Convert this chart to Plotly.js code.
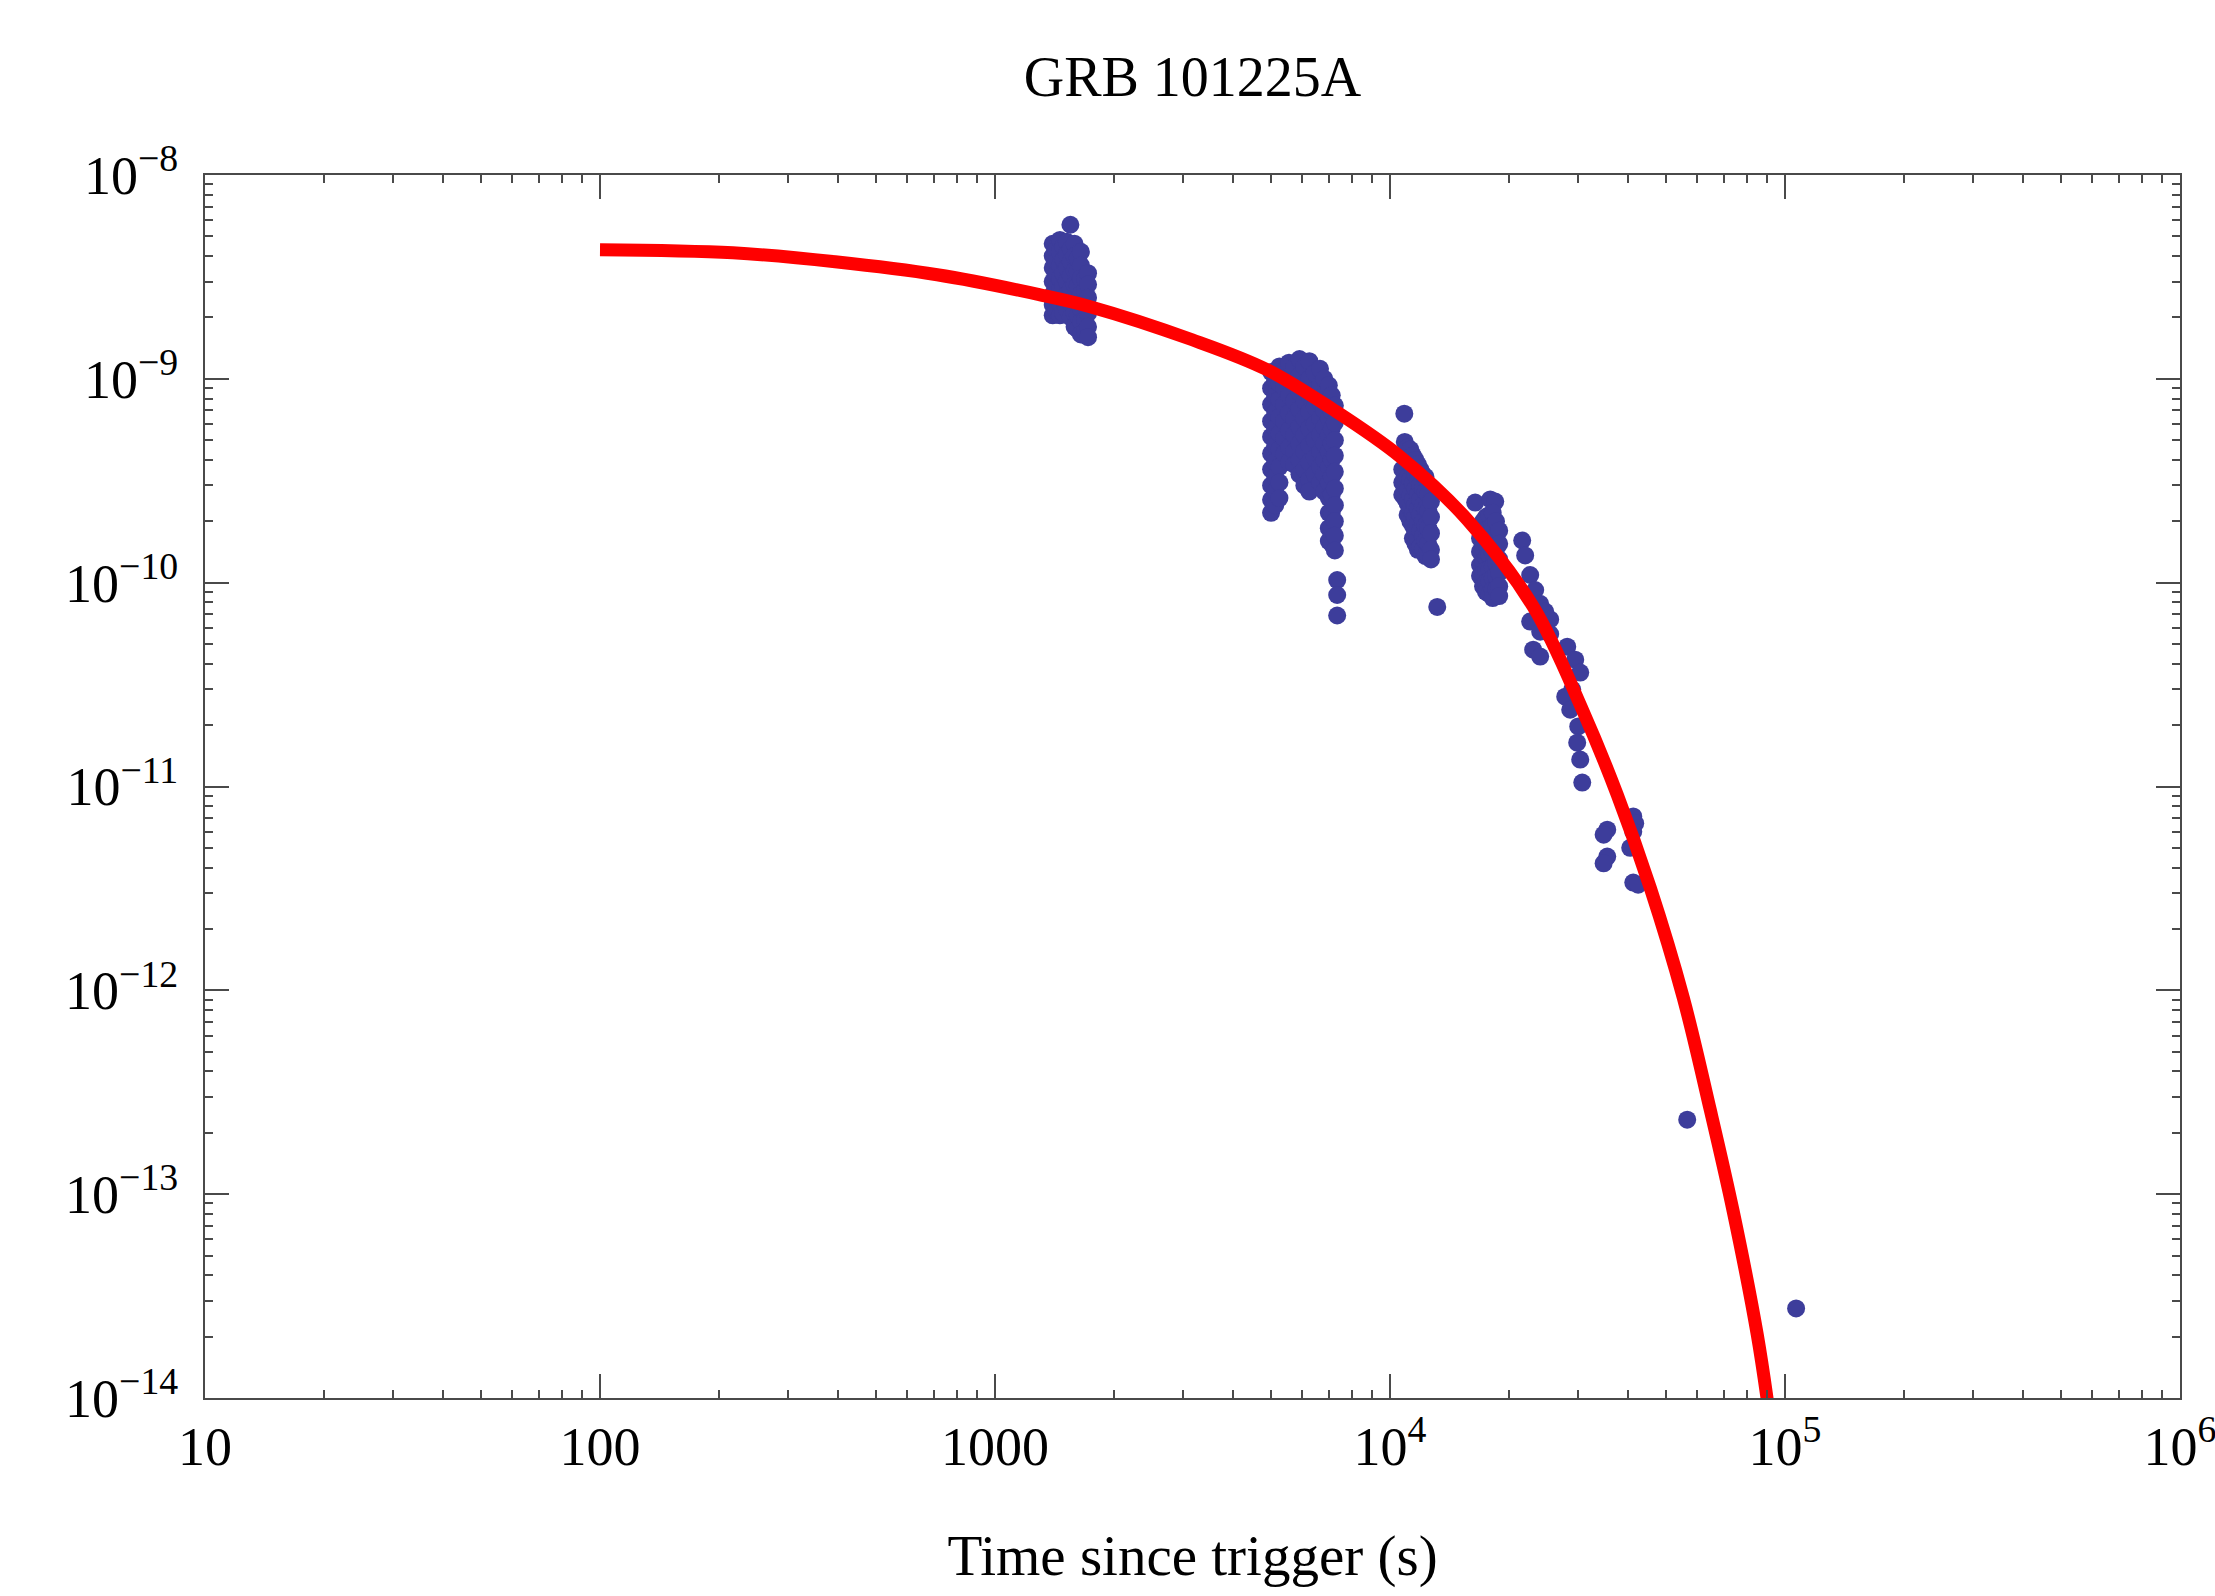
<!DOCTYPE html>
<html>
<head>
<meta charset="utf-8">
<script src="https://cdn.plot.ly/plotly-3.0.1.min.js"></script>
<style>
  html, body { margin: 0; padding: 0; background: #ffffff; }
  #chart { width: 2215px; height: 1596px; }
</style>
</head>
<body>
<div id="chart"></div>
<script>
// ---------------- DATA ----------------
const chartTitle = 'GRB 101225A';
const xAxisTitle = 'Time since trigger (s)';

const xTickVals = [10, 100, 1000, 1e4, 1e5, 1e6];
const xTickText = ['10', '100', '1000', '10<sup>4</sup>', '10<sup>5</sup>', '10<sup>6</sup>'];
const yTickVals = [1e-14, 1e-13, 1e-12, 1e-11, 1e-10, 1e-9, 1e-8];
const yTickText = ['10<sup>\u221214</sup>', '10<sup>\u221213</sup>', '10<sup>\u221212</sup>',
                   '10<sup>\u221211</sup>', '10<sup>\u221210</sup>', '10<sup>\u22129</sup>', '10<sup>\u22128</sup>'];

// fitted model curve (red)
const curveTime = [100, 217, 394, 714, 1294, 1742, 3157, 4889, 7181, 10612, 15683, 23043,
                   30840, 37600, 45580, 55250, 64660, 73940, 85050, 91500];
const curveFlux = [4.30e-9, 4.15e-9, 3.75e-9, 3.24e-9, 2.59e-9, 2.26e-9, 1.555e-9, 1.108e-9,
                   7.06e-10, 4.15e-10, 2.04e-10, 7.62e-11, 2.33e-11, 9.13e-12, 3.19e-12,
                   9.22e-13, 2.60e-13, 8.23e-14, 2.05e-14, 8.0e-15];

// observed points, grouped by time column: [time, [flux values]]
const cluster1 = [
  [1400, [4.6e-9, 4.0e-9, 3.5e-9, 3.0e-9, 2.6e-9, 2.3e-9, 2.05e-9]],
  [1430, [4.3e-9, 3.75e-9, 3.25e-9, 2.8e-9, 2.45e-9, 2.15e-9]],
  [1460, [4.8e-9, 4.2e-9, 3.6e-9, 3.1e-9, 2.7e-9, 2.35e-9, 2.05e-9]],
  [1490, [4.45e-9, 3.85e-9, 3.3e-9, 2.85e-9, 2.45e-9, 2.1e-9]],
  [1520, [4.7e-9, 4.1e-9, 3.5e-9, 3.0e-9, 2.6e-9, 2.2e-9]],
  [1555, [4.35e-9, 3.75e-9, 3.2e-9, 2.75e-9, 2.35e-9, 2.0e-9]],
  [1590, [4.6e-9, 4.0e-9, 3.4e-9, 2.9e-9, 2.5e-9, 2.1e-9, 1.8e-9]],
  [1620, [3.9e-9, 3.35e-9, 2.85e-9, 2.4e-9, 2.05e-9, 1.75e-9]],
  [1650, [4.2e-9, 3.6e-9, 3.1e-9, 2.6e-9, 2.2e-9, 1.9e-9, 1.65e-9]],
  [1690, [3.1e-9, 2.7e-9, 2.3e-9, 1.95e-9, 1.7e-9]],
  [1720, [3.3e-9, 2.9e-9, 2.5e-9, 2.1e-9, 1.8e-9, 1.6e-9]],
  [1552, [5.7e-9]]
];
const cluster2 = [
  [5000, [1.08e-9, 9.0e-10, 7.5e-10, 6.2e-10, 5.2e-10, 4.3e-10, 3.6e-10, 3.0e-10, 2.55e-10, 2.2e-10]],
  [5120, [9.8e-10, 8.2e-10, 6.8e-10, 5.7e-10, 4.7e-10, 3.9e-10, 3.3e-10, 2.8e-10, 2.4e-10]],
  [5250, [1.15e-9, 9.5e-10, 7.9e-10, 6.5e-10, 5.4e-10, 4.5e-10, 3.7e-10, 3.1e-10, 2.6e-10]],
  [5400, [1.1e-9, 9.1e-10, 7.5e-10, 6.2e-10, 5.1e-10, 4.3e-10]],
  [5550, [1.2e-9, 1.0e-9, 8.3e-10, 6.8e-10, 5.6e-10, 4.6e-10, 3.9e-10]],
  [5720, [1.14e-9, 9.4e-10, 7.8e-10, 6.4e-10, 5.3e-10, 4.4e-10, 3.8e-10]],
  [5900, [1.25e-9, 1.04e-9, 8.6e-10, 7.1e-10, 5.8e-10, 4.8e-10, 4.0e-10, 3.4e-10]],
  [6070, [1.15e-9, 9.5e-10, 7.8e-10, 6.4e-10, 5.3e-10, 4.4e-10, 3.6e-10, 3.0e-10]],
  [6250, [1.22e-9, 1.0e-9, 8.3e-10, 6.9e-10, 5.7e-10, 4.7e-10, 3.9e-10, 3.2e-10, 2.8e-10]],
  [6450, [1.07e-9, 8.8e-10, 7.3e-10, 6.0e-10, 5.0e-10, 4.1e-10, 3.4e-10]],
  [6650, [1.12e-9, 9.3e-10, 7.7e-10, 6.4e-10, 5.3e-10, 4.4e-10, 3.7e-10, 3.1e-10]],
  [6820, [1.0e-9, 8.4e-10, 7.0e-10, 5.8e-10, 4.8e-10, 4.0e-10, 3.4e-10, 2.8e-10]],
  [7000, [9.3e-10, 7.7e-10, 6.4e-10, 5.3e-10, 4.4e-10, 3.7e-10, 3.1e-10, 2.6e-10, 2.2e-10, 1.85e-10, 1.6e-10]],
  [7120, [8.3e-10, 6.9e-10, 5.7e-10, 4.8e-10, 4.0e-10, 3.3e-10, 2.7e-10, 2.2e-10, 1.85e-10, 1.55e-10]],
  [7250, [7.4e-10, 6.1e-10, 5.0e-10, 4.2e-10, 3.5e-10, 2.9e-10, 2.4e-10, 2.0e-10, 1.7e-10, 1.44e-10]],
  [7350, [1.03e-10, 8.7e-11, 6.9e-11]]
];
const cluster3 = [
  [10870, [6.75e-10]],
  [10900, [4.9e-10, 4.2e-10, 3.5e-10, 3.0e-10, 2.6e-10]],
  [10740, [3.6e-10, 3.1e-10, 2.7e-10]],
  [11080, [4.6e-10, 3.9e-10, 3.3e-10, 2.85e-10, 2.45e-10, 2.15e-10]],
  [11260, [4.5e-10, 3.8e-10, 3.2e-10, 2.7e-10, 2.3e-10, 2.0e-10]],
  [11430, [4.2e-10, 3.6e-10, 3.05e-10, 2.55e-10, 2.2e-10, 1.9e-10, 1.65e-10]],
  [11600, [4.0e-10, 3.4e-10, 2.9e-10, 2.4e-10, 2.1e-10, 1.8e-10, 1.55e-10]],
  [11770, [3.8e-10, 3.2e-10, 2.7e-10, 2.3e-10, 1.95e-10, 1.65e-10, 1.45e-10]],
  [11930, [3.6e-10, 3.0e-10, 2.55e-10, 2.15e-10, 1.8e-10, 1.5e-10]],
  [12120, [3.4e-10, 2.9e-10, 2.4e-10, 2.0e-10, 1.7e-10, 1.45e-10]],
  [12300, [3.3e-10, 2.8e-10, 2.3e-10, 1.9e-10, 1.6e-10, 1.35e-10]],
  [12500, [2.7e-10, 2.25e-10, 1.85e-10, 1.55e-10, 1.35e-10]],
  [12700, [2.5e-10, 2.1e-10, 1.75e-10, 1.45e-10, 1.3e-10]],
  [13170, [7.6e-11]]
];
const cluster4 = [
  [16430, [2.47e-10]],
  [17940, [2.56e-10]],
  [18470, [2.5e-10]],
  [16900, [1.9e-10, 1.65e-10, 1.42e-10, 1.22e-10, 1.08e-10]],
  [17200, [2.0e-10, 1.72e-10, 1.48e-10, 1.27e-10, 1.1e-10, 9.6e-11]],
  [17500, [2.1e-10, 1.8e-10, 1.55e-10, 1.32e-10, 1.15e-10, 1.0e-10, 9.0e-11]],
  [17850, [2.15e-10, 1.85e-10, 1.58e-10, 1.36e-10, 1.17e-10, 1.02e-10, 8.8e-11]],
  [18200, [2.2e-10, 1.9e-10, 1.62e-10, 1.4e-10, 1.2e-10, 1.05e-10, 9.2e-11, 8.4e-11]],
  [18550, [2.0e-10, 1.7e-10, 1.45e-10, 1.25e-10, 1.08e-10, 9.3e-11]],
  [18900, [1.8e-10, 1.55e-10, 1.3e-10, 1.12e-10, 9.6e-11, 8.6e-11]]
];
const cluster5Time = [21610, 21990, 22640, 23310, 24000, 24710, 22640, 24000, 23040, 24000,
                      25440, 25440, 28100, 29440, 30310, 28930, 27770, 28590, 29960, 29780, 30310, 30670];
const cluster5Flux = [1.61e-10, 1.36e-10, 1.09e-10, 9.2e-11, 7.88e-11, 7.21e-11, 6.44e-11, 5.75e-11, 4.69e-11, 4.34e-11,
                      6.6e-11, 5.6e-11, 4.85e-11, 4.19e-11, 3.62e-11, 2.99e-11, 2.76e-11, 2.38e-11, 1.97e-11, 1.64e-11, 1.355e-11, 1.045e-11];
const cluster6Time = [35480, 34740, 35480, 34740, 41290, 41760, 41290, 40560, 41290, 42490];
const cluster6Flux = [6.14e-12, 5.8e-12, 4.53e-12, 4.2e-12, 7.13e-12, 6.6e-12, 6.0e-12, 5.0e-12, 3.38e-12, 3.3e-12];
const lateTime = [56550, 106700];
const lateFlux = [2.32e-13, 2.75e-14];

// ---------------- BUILD ----------------
const obsT = [], obsF = [];
[cluster1, cluster2, cluster3, cluster4].forEach(cl => {
  cl.forEach(col => { col[1].forEach(f => { obsT.push(col[0]); obsF.push(f); }); });
});
[[cluster5Time, cluster5Flux], [cluster6Time, cluster6Flux], [lateTime, lateFlux]].forEach(p => {
  p[0].forEach((t, i) => { obsT.push(t); obsF.push(p[1][i]); });
});

function minorLogTicks(lo, hi) {
  const v = [];
  for (let e = lo; e < hi; e++) for (let m = 2; m <= 9; m++) v.push(m * Math.pow(10, e));
  return v;
}

const FONT = "'Liberation Serif', 'Times New Roman', Times, serif";
const axisCommon = {
  type: 'log',
  showgrid: false,
  zeroline: false,
  showline: true,
  linecolor: '#4a4a4a',
  linewidth: 2,
  mirror: 'allticks',
  ticks: 'inside',
  ticklen: 24,
  tickwidth: 2,
  tickcolor: '#4a4a4a',
  tickmode: 'array',
  automargin: false,
  ticklabeloverflow: 'allow',
  tickfont: { family: FONT, size: 54, color: '#000' }
};

const traces = [
  {
    x: obsT, y: obsF,
    type: 'scatter', mode: 'markers',
    marker: { size: 18, color: '#3d3d9b', line: { width: 0 } },
    hoverinfo: 'x+y'
  },
  {
    x: curveTime, y: curveFlux,
    type: 'scatter', mode: 'lines',
    line: { color: '#ff0000', width: 13, shape: 'spline', smoothing: 1 }
  }
];

const layout = {
  width: 2215, height: 1596,
  paper_bgcolor: '#ffffff', plot_bgcolor: '#ffffff',
  showlegend: false,
  margin: { l: 205, r: 35, t: 175, b: 198 },
  font: { family: FONT, color: '#000' },
  title: {
    text: chartTitle,
    font: { family: FONT, size: 56, color: '#000' },
    x: 0.5, xref: 'paper', xanchor: 'center',
    y: 1 - 76 / 1596, yref: 'container', yanchor: 'middle'
  },
  xaxis: Object.assign({}, axisCommon, {
    range: [1, 6],
    tickvals: xTickVals, ticktext: xTickText,
    ticklabelstandoff: 0,
    minor: { tickmode: 'array', tickvals: minorLogTicks(1, 6), ticks: 'inside', ticklen: 8, tickwidth: 2, tickcolor: '#4a4a4a', showgrid: false },
    title: { text: xAxisTitle, font: { family: FONT, size: 57, color: '#000' }, standoff: 59 }
  }),
  yaxis: Object.assign({}, axisCommon, {
    range: [-14, -8],
    tickvals: yTickVals, ticktext: yTickText,
    ticklabelstandoff: 14,
    minor: { tickmode: 'array', tickvals: minorLogTicks(-14, -8), ticks: 'inside', ticklen: 8, tickwidth: 2, tickcolor: '#4a4a4a', showgrid: false }
  })
};

Plotly.newPlot('chart', traces, layout, { displayModeBar: false, staticPlot: true });
</script>
</body>
</html>
